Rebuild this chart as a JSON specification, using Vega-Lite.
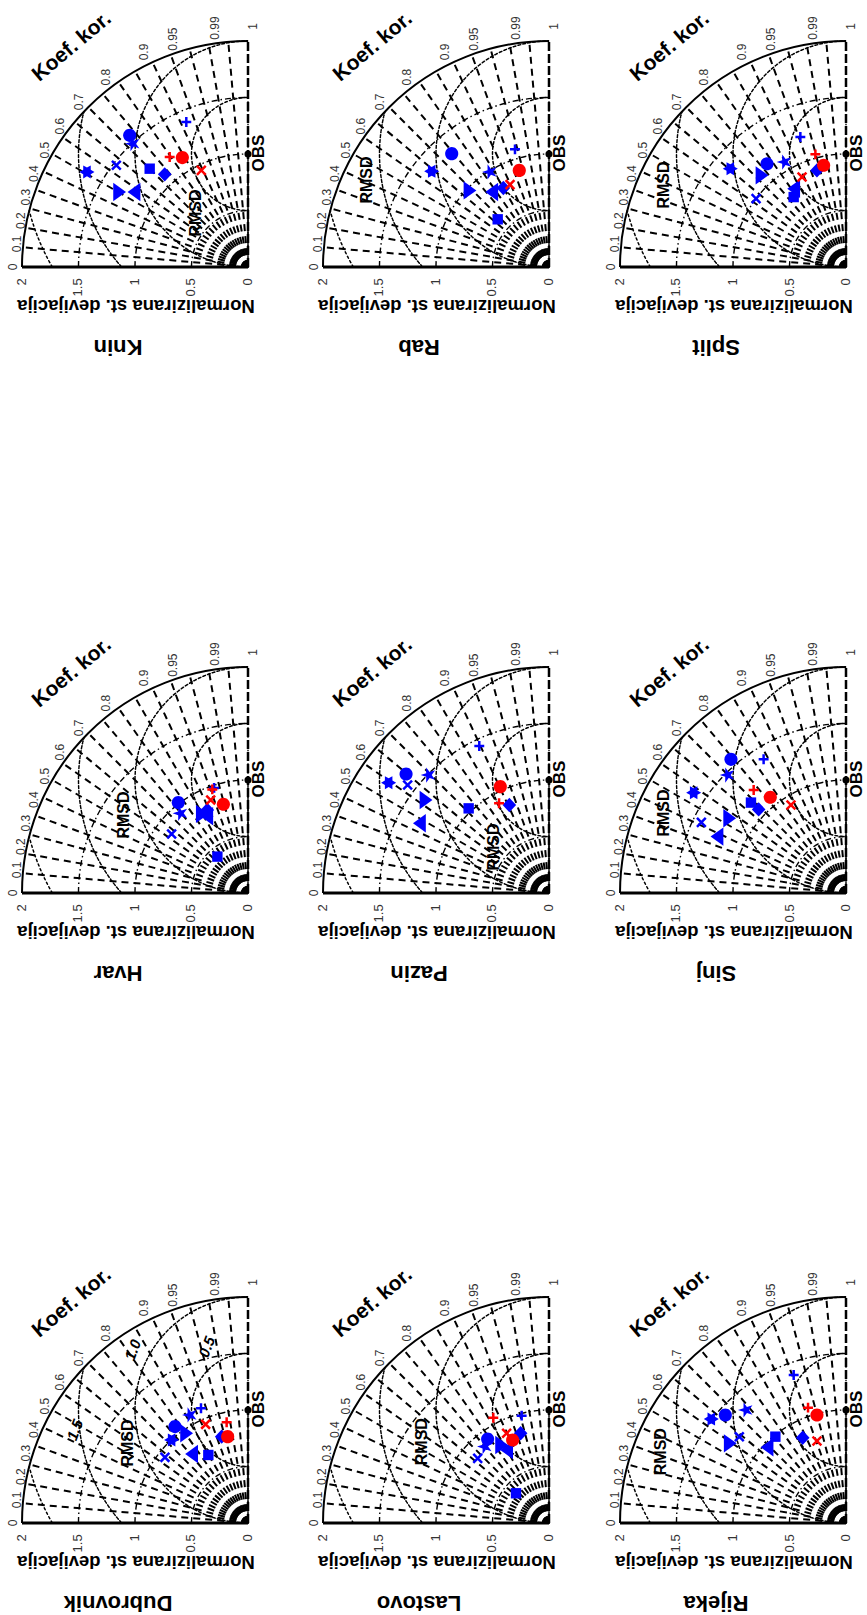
{
"$schema": "https://vega.github.io/schema/vega-lite/v6.json",
"padding": 0,
"spacing": 0,
"config": {"view": {"stroke": null}, "text": {"font": "Liberation Sans"}},
"datasets": {
"sd": [{"u":0,"v":0,"r":0.5,"t1":270,"t2":360},{"u":0,"v":0,"r":1,"t1":270,"t2":360},{"u":0,"v":0,"r":1.5,"t1":270,"t2":360}],
"rms": [{"u":0,"v":1,"r":0.5,"t1":180,"t2":360},{"u":0,"v":1,"r":1,"t1":180,"t2":360},{"u":0,"v":1,"r":1.5,"t1":228.2,"t2":284.5},{"u":0,"v":1,"r":2,"t1":240,"t2":255.5}],
"outer": [{"u":0,"v":0,"r":2,"t1":270,"t2":360}],
"rays": [{"u":0,"v":0,"u2":0.1743,"v2":1.9924},{"u":0,"v":0,"u2":0.3473,"v2":1.9696},{"u":0,"v":0,"u2":0.5176,"v2":1.9319},{"u":0,"v":0,"u2":0.684,"v2":1.8794},{"u":0,"v":0,"u2":0.8452,"v2":1.8126},{"u":0,"v":0,"u2":1.0,"v2":1.7321},{"u":0,"v":0,"u2":1.1472,"v2":1.6383},{"u":0,"v":0,"u2":1.2856,"v2":1.5321},{"u":0,"v":0,"u2":1.4142,"v2":1.4142},{"u":0,"v":0,"u2":1.5321,"v2":1.2856},{"u":0,"v":0,"u2":1.6383,"v2":1.1472},{"u":0,"v":0,"u2":1.7321,"v2":1.0},{"u":0,"v":0,"u2":1.8126,"v2":0.8452},{"u":0,"v":0,"u2":1.8794,"v2":0.684},{"u":0,"v":0,"u2":1.9319,"v2":0.5176},{"u":0,"v":0,"u2":1.9696,"v2":0.3473},{"u":0,"v":0,"u2":1.9924,"v2":0.1743}],
"axb": [{"u":0,"v":0,"u2":2,"v2":0}],
"axv": [{"u":0,"v":0,"u2":0,"v2":2}],
"obs": [{"u":0,"v":1}],
"cl": [{"lab":"0","u":2.08,"v":0},{"lab":"0.1","u":2.041,"v":0.205},{"lab":"0.2","u":2.012,"v":0.411},{"lab":"0.3","u":1.962,"v":0.617},{"lab":"0.4","u":1.891,"v":0.825},{"lab":"0.5","u":1.793,"v":1.035},{"lab":"0.6","u":1.663,"v":1.247},{"lab":"0.7","u":1.492,"v":1.462},{"lab":"0.8","u":1.261,"v":1.681},{"lab":"0.9","u":0.922,"v":1.903},{"lab":"0.95","u":0.663,"v":2.016},{"lab":"0.99","u":0.29,"v":2.115},{"lab":"1","u":-0.04,"v":2.13}],
"tl": [{"lab":"2","u":2,"v":-0.1},{"lab":"1.5","u":1.5,"v":-0.1},{"lab":"1","u":1,"v":-0.1},{"lab":"0.5","u":0.5,"v":-0.1},{"lab":"0","u":0,"v":-0.1}],
"ttl": [{"lab":"Normalizirana st. devijacija","u":0.991,"v":-0.345}],
"koef": [{"lab":"Koef. kor.","u":1.558,"v":1.947}],
"obslab": [{"lab":"OBS","u":-0.1,"v":1.009}],
"names": [{"station":"Knin","u":1.15,"v":-0.71},{"station":"Rab","u":1.15,"v":-0.71},{"station":"Split","u":1.15,"v":-0.71},{"station":"Hvar","u":1.15,"v":-0.71},{"station":"Pazin","u":1.15,"v":-0.71},{"station":"Sinj","u":1.15,"v":-0.71},{"station":"Dubrovnik","u":1.15,"v":-0.71},{"station":"Lastovo","u":1.15,"v":-0.71},{"station":"Rijeka","u":1.15,"v":-0.71}],
"rmsdlab": [{"station":"Knin","lab":"RMSD","u":0.46,"v":0.478},{"station":"Rab","lab":"RMSD","u":1.613,"v":0.77},{"station":"Split","lab":"RMSD","u":1.613,"v":0.726},{"station":"Hvar","lab":"RMSD","u":1.097,"v":0.69},{"station":"Pazin","lab":"RMSD","u":0.487,"v":0.407},{"station":"Sinj","lab":"RMSD","u":1.613,"v":0.708},{"station":"Dubrovnik","lab":"RMSD","u":1.062,"v":0.708},{"station":"Lastovo","lab":"RMSD","u":1.127,"v":0.72},{"station":"Rijeka","lab":"RMSD","u":1.637,"v":0.631}],
"dubl": [{"lab":"1.5","u":1.531,"v":0.823},{"lab":"1.0","u":1.018,"v":1.531},{"lab":"0.5","u":0.363,"v":1.558}],
"pts": [
{"station":"Knin","model":"B1","u":1.047,"v":1.165},{"station":"Knin","model":"B2","u":0.546,"v":1.283},{"station":"Knin","model":"B3","u":1.165,"v":0.9},{"station":"Knin","model":"B4","u":1.018,"v":1.091},{"station":"Knin","model":"B5","u":1.425,"v":0.841},{"station":"Knin","model":"B6","u":0.87,"v":0.87},{"station":"Knin","model":"B7","u":0.737,"v":0.82},{"station":"Knin","model":"B8","u":1.009,"v":0.664},{"station":"Knin","model":"B9","u":1.136,"v":0.664},{"station":"Knin","model":"R1","u":0.581,"v":0.968},{"station":"Knin","model":"R2","u":0.693,"v":0.973},{"station":"Knin","model":"R3","u":0.413,"v":0.855},
{"station":"Rab","model":"B1","u":0.861,"v":1.003},{"station":"Rab","model":"B2","u":0.301,"v":1.041},{"station":"Rab","model":"B4","u":0.522,"v":0.841},{"station":"Rab","model":"B5","u":1.038,"v":0.847},{"station":"Rab","model":"B6","u":0.454,"v":0.422},{"station":"Rab","model":"B7","u":0.404,"v":0.699},{"station":"Rab","model":"B8","u":0.507,"v":0.664},{"station":"Rab","model":"B9","u":0.699,"v":0.678},{"station":"Rab","model":"R1","u":0.263,"v":0.855},{"station":"Rab","model":"R3","u":0.345,"v":0.729},
{"station":"Split","model":"B1","u":0.699,"v":0.914},{"station":"Split","model":"B2","u":0.404,"v":1.15},{"station":"Split","model":"B3","u":0.796,"v":0.605},{"station":"Split","model":"B4","u":0.543,"v":0.929},{"station":"Split","model":"B5","u":1.024,"v":0.87},{"station":"Split","model":"B6","u":0.463,"v":0.619},{"station":"Split","model":"B7","u":0.257,"v":0.855},{"station":"Split","model":"B8","u":0.463,"v":0.693},{"station":"Split","model":"B9","u":0.743,"v":0.811},{"station":"Split","model":"R1","u":0.198,"v":0.9},{"station":"Split","model":"R2","u":0.271,"v":0.997},{"station":"Split","model":"R3","u":0.389,"v":0.796},
{"station":"Hvar","model":"B1","u":0.617,"v":0.8},{"station":"Hvar","model":"B2","u":0.3,"v":0.93},{"station":"Hvar","model":"B3","u":0.676,"v":0.522},{"station":"Hvar","model":"B4","u":0.596,"v":0.705},{"station":"Hvar","model":"B6","u":0.271,"v":0.322},{"station":"Hvar","model":"B7","u":0.36,"v":0.735},{"station":"Hvar","model":"B8","u":0.365,"v":0.68},{"station":"Hvar","model":"B9","u":0.404,"v":0.7},{"station":"Hvar","model":"R1","u":0.218,"v":0.785},{"station":"Hvar","model":"R2","u":0.316,"v":0.917},{"station":"Hvar","model":"R3","u":0.33,"v":0.823},
{"station":"Pazin","model":"B1","u":1.265,"v":1.053},{"station":"Pazin","model":"B2","u":0.617,"v":1.301},{"station":"Pazin","model":"B3","u":1.251,"v":0.956},{"station":"Pazin","model":"B4","u":1.065,"v":1.044},{"station":"Pazin","model":"B5","u":1.419,"v":0.976},{"station":"Pazin","model":"B6","u":0.711,"v":0.749},{"station":"Pazin","model":"B7","u":0.351,"v":0.779},{"station":"Pazin","model":"B8","u":1.147,"v":0.617},{"station":"Pazin","model":"B9","u":1.088,"v":0.823},{"station":"Pazin","model":"R1","u":0.431,"v":0.941},{"station":"Pazin","model":"R2","u":0.442,"v":0.794},
{"station":"Sinj","model":"B1","u":1.018,"v":1.183},{"station":"Sinj","model":"B2","u":0.729,"v":1.183},{"station":"Sinj","model":"B3","u":1.28,"v":0.625},{"station":"Sinj","model":"B4","u":1.047,"v":1.044},{"station":"Sinj","model":"B5","u":1.348,"v":0.888},{"station":"Sinj","model":"B6","u":0.841,"v":0.8},{"station":"Sinj","model":"B7","u":0.773,"v":0.74},{"station":"Sinj","model":"B8","u":1.142,"v":0.499},{"station":"Sinj","model":"B9","u":1.029,"v":0.661},{"station":"Sinj","model":"R1","u":0.67,"v":0.847},{"station":"Sinj","model":"R2","u":0.817,"v":0.912},{"station":"Sinj","model":"R3","u":0.487,"v":0.779},
{"station":"Dubrovnik","model":"B1","u":0.646,"v":0.853},{"station":"Dubrovnik","model":"B2","u":0.416,"v":1.015},{"station":"Dubrovnik","model":"B3","u":0.735,"v":0.581},{"station":"Dubrovnik","model":"B4","u":0.513,"v":0.956},{"station":"Dubrovnik","model":"B5","u":0.676,"v":0.735},{"station":"Dubrovnik","model":"B6","u":0.351,"v":0.602},{"station":"Dubrovnik","model":"B7","u":0.233,"v":0.764},{"station":"Dubrovnik","model":"B8","u":0.499,"v":0.611},{"station":"Dubrovnik","model":"B9","u":0.543,"v":0.794},{"station":"Dubrovnik","model":"R1","u":0.18,"v":0.764},{"station":"Dubrovnik","model":"R2","u":0.189,"v":0.891},{"station":"Dubrovnik","model":"R3","u":0.375,"v":0.873},
{"station":"Lastovo","model":"B1","u":0.543,"v":0.743},{"station":"Lastovo","model":"B2","u":0.242,"v":0.95},{"station":"Lastovo","model":"B3","u":0.631,"v":0.572},{"station":"Lastovo","model":"B4","u":0.566,"v":0.676},{"station":"Lastovo","model":"B6","u":0.292,"v":0.263},{"station":"Lastovo","model":"B7","u":0.251,"v":0.794},{"station":"Lastovo","model":"B8","u":0.375,"v":0.646},{"station":"Lastovo","model":"B9","u":0.419,"v":0.69},{"station":"Lastovo","model":"R1","u":0.322,"v":0.735},{"station":"Lastovo","model":"R2","u":0.493,"v":0.932},{"station":"Lastovo","model":"R3","u":0.375,"v":0.794},
{"station":"Rijeka","model":"B1","u":1.068,"v":0.956},{"station":"Rijeka","model":"B2","u":0.463,"v":1.31},{"station":"Rijeka","model":"B3","u":0.944,"v":0.764},{"station":"Rijeka","model":"B4","u":0.885,"v":1.0},{"station":"Rijeka","model":"B5","u":1.192,"v":0.92},{"station":"Rijeka","model":"B6","u":0.625,"v":0.764},{"station":"Rijeka","model":"B7","u":0.383,"v":0.755},{"station":"Rijeka","model":"B8","u":0.699,"v":0.67},{"station":"Rijeka","model":"B9","u":1.024,"v":0.705},{"station":"Rijeka","model":"R1","u":0.257,"v":0.956},{"station":"Rijeka","model":"R2","u":0.336,"v":1.021},{"station":"Rijeka","model":"R3","u":0.257,"v":0.726}
]
},
"vconcat": [
{"spacing": 0, "hconcat": [
{"width":300,"height":627,"encoding":{"x":{"field":"u","type":"quantitative","axis":null,"scale":{"domain":[-0.46018,2.19469],"reverse":true,"nice":false,"zero":false}},"y":{"field":"v","type":"quantitative","axis":null,"scale":{"domain":[-3.18584,2.36283],"nice":false,"zero":false}}},
"layer":[
{"data":{"name":"sd"},"mark":{"type":"arc","filled":false,"stroke":"#000","strokeWidth":1.4,"strokeDash":[6,3,1.5,3]},"encoding":{"theta":{"field":"t1","type":"quantitative","stack":null,"scale":{"domain":[0,360],"range":[0,6.283185307179586]}},"theta2":{"field":"t2"},"radius":{"field":"r","type":"quantitative","scale":{"type":"linear","domain":[0,2],"range":[0,226],"zero":true}}}},
{"data":{"name":"rms"},"mark":{"type":"arc","filled":false,"stroke":"#000","strokeWidth":1.5,"strokeDash":[1,4],"strokeCap":"round"},"encoding":{"theta":{"field":"t1","type":"quantitative","stack":null,"scale":{"domain":[0,360],"range":[0,6.283185307179586]}},"theta2":{"field":"t2"},"radius":{"field":"r","type":"quantitative","scale":{"type":"linear","domain":[0,2],"range":[0,226],"zero":true}},"radius2":{"field":"r"}}},
{"data":{"name":"rays"},"mark":{"type":"rule","stroke":"#000","strokeWidth":2,"strokeDash":[7,5]},"encoding":{"x2":{"field":"u2"},"y2":{"field":"v2"}}},
{"data":{"name":"outer"},"mark":{"type":"arc","filled":false,"stroke":"#000","strokeWidth":2},"encoding":{"theta":{"field":"t1","type":"quantitative","stack":null,"scale":{"domain":[0,360],"range":[0,6.283185307179586]}},"theta2":{"field":"t2"},"radius":{"field":"r","type":"quantitative","scale":{"type":"linear","domain":[0,2],"range":[0,226],"zero":true}},"radius2":{"field":"r"}}},
{"data":{"name":"axb"},"mark":{"type":"rule","stroke":"#000","strokeWidth":3},"encoding":{"x2":{"field":"u2"},"y2":{"field":"v2"}}},
{"data":{"name":"axv"},"mark":{"type":"rule","stroke":"#000","strokeWidth":2.5,"strokeDash":[9,3]},"encoding":{"x2":{"field":"u2"},"y2":{"field":"v2"}}},
{"data":{"name":"obs"},"mark":{"type":"point","filled":true,"color":"#000","size":50,"opacity":1}},
{"data":{"name":"pts"},"transform":[{"filter":"datum.station==='Knin' && indexof(['R2','R3','B2','B3'],datum.model)<0"}],"mark":{"type":"point","filled":true,"size":256,"opacity":1},"encoding":{"shape":{"field":"model","type":"nominal","legend":null,"scale":{"domain":["R1","R2","R3","B1","B2","B3","B4","B5","B6","B7","B8","B9"],"range":["M0.82,0A0.82,0.82,0,1,1,-0.82,0A0.82,0.82,0,1,1,0.82,0Z","M-0.62,0L0.62,0M0,-0.62L0,0.62","M-0.55,-0.55L0.55,0.55M-0.55,0.55L0.55,-0.55","M0.82,0A0.82,0.82,0,1,1,-0.82,0A0.82,0.82,0,1,1,0.82,0Z","M-0.62,0L0.62,0M0,-0.62L0,0.62","M-0.55,-0.55L0.55,0.55M-0.55,0.55L0.55,-0.55","M-1,0L-0.309,-0.225L-0.309,-0.951L0.118,-0.363L0.809,-0.588L0.382,0L0.809,0.588L0.118,0.363L-0.309,0.951L-0.309,0.225Z","M-0.94,0L-0.47,0.271L-0.47,0.814L0,0.543L0.47,0.814L0.47,0.271L0.94,0L0.47,-0.271L0.47,-0.814L0,-0.543L-0.47,-0.814L-0.47,-0.271Z","M-0.65,-0.65L0.65,-0.65L0.65,0.65L-0.65,0.65Z","M0,-0.9L0.85,0L0,0.9L-0.85,0Z","M-0.8,0L0.8,-1.15L0.8,1.15Z","M0.8,0L-0.8,-1.15L-0.8,1.15Z"]}},"color":{"field":"model","type":"nominal","legend":null,"scale":{"domain":["R1","R2","R3","B1","B2","B3","B4","B5","B6","B7","B8","B9"],"range":["#ff0000","#ff0000","#ff0000","#0000ff","#0000ff","#0000ff","#0000ff","#0000ff","#0000ff","#0000ff","#0000ff","#0000ff"]}}}},
{"data":{"name":"pts"},"transform":[{"filter":"datum.station==='Knin' && indexof(['R2','R3','B2','B3'],datum.model)>=0"}],"mark":{"type":"point","filled":false,"size":256,"opacity":1,"strokeWidth":2.5},"encoding":{"shape":{"field":"model","type":"nominal","legend":null,"scale":{"domain":["R1","R2","R3","B1","B2","B3","B4","B5","B6","B7","B8","B9"],"range":["M0.82,0A0.82,0.82,0,1,1,-0.82,0A0.82,0.82,0,1,1,0.82,0Z","M-0.62,0L0.62,0M0,-0.62L0,0.62","M-0.55,-0.55L0.55,0.55M-0.55,0.55L0.55,-0.55","M0.82,0A0.82,0.82,0,1,1,-0.82,0A0.82,0.82,0,1,1,0.82,0Z","M-0.62,0L0.62,0M0,-0.62L0,0.62","M-0.55,-0.55L0.55,0.55M-0.55,0.55L0.55,-0.55","M-1,0L-0.309,-0.225L-0.309,-0.951L0.118,-0.363L0.809,-0.588L0.382,0L0.809,0.588L0.118,0.363L-0.309,0.951L-0.309,0.225Z","M-0.94,0L-0.47,0.271L-0.47,0.814L0,0.543L0.47,0.814L0.47,0.271L0.94,0L0.47,-0.271L0.47,-0.814L0,-0.543L-0.47,-0.814L-0.47,-0.271Z","M-0.65,-0.65L0.65,-0.65L0.65,0.65L-0.65,0.65Z","M0,-0.9L0.85,0L0,0.9L-0.85,0Z","M-0.8,0L0.8,-1.15L0.8,1.15Z","M0.8,0L-0.8,-1.15L-0.8,1.15Z"]}},"color":{"field":"model","type":"nominal","legend":null,"scale":{"domain":["R1","R2","R3","B1","B2","B3","B4","B5","B6","B7","B8","B9"],"range":["#ff0000","#ff0000","#ff0000","#0000ff","#0000ff","#0000ff","#0000ff","#0000ff","#0000ff","#0000ff","#0000ff","#0000ff"]}}}},
{"data":{"name":"cl"},"mark":{"type":"text","angle":270,"fontSize":12,"color":"#333","align":"center","baseline":"middle"},"encoding":{"text":{"field":"lab"}}},
{"data":{"name":"tl"},"mark":{"type":"text","angle":270,"fontSize":13,"color":"#333","align":"right","baseline":"middle"},"encoding":{"text":{"field":"lab"}}},
{"data":{"name":"ttl"},"mark":{"type":"text","angle":180,"fontSize":18.5,"fontWeight":"bold","align":"center","baseline":"middle"},"encoding":{"text":{"field":"lab"}}},
{"data":{"name":"koef"},"mark":{"type":"text","angle":320,"fontSize":21,"fontWeight":"bold","align":"center","baseline":"middle"},"encoding":{"text":{"field":"lab"}}},
{"data":{"name":"obslab"},"mark":{"type":"text","angle":270,"fontSize":17,"fontWeight":"bold","align":"center","baseline":"middle"},"encoding":{"text":{"field":"lab"}}},
{"data":{"name":"names"},"transform":[{"filter":"datum.station==='Knin'"}],"mark":{"type":"text","angle":180,"fontSize":22,"fontWeight":"bold","align":"center","baseline":"middle"},"encoding":{"text":{"field":"station"}}},
{"data":{"name":"rmsdlab"},"transform":[{"filter":"datum.station==='Knin'"}],"mark":{"type":"text","angle":270,"fontSize":16,"fontWeight":"bold","align":"center","baseline":"middle"},"encoding":{"text":{"field":"lab"}}}
]},
{"width":300,"height":627,"encoding":{"x":{"field":"u","type":"quantitative","axis":null,"scale":{"domain":[-0.45133,2.20354],"reverse":true,"nice":false,"zero":false}},"y":{"field":"v","type":"quantitative","axis":null,"scale":{"domain":[-3.18584,2.36283],"nice":false,"zero":false}}},
"layer":[
{"data":{"name":"sd"},"mark":{"type":"arc","filled":false,"stroke":"#000","strokeWidth":1.4,"strokeDash":[6,3,1.5,3]},"encoding":{"theta":{"field":"t1","type":"quantitative","stack":null,"scale":{"domain":[0,360],"range":[0,6.283185307179586]}},"theta2":{"field":"t2"},"radius":{"field":"r","type":"quantitative","scale":{"type":"linear","domain":[0,2],"range":[0,226],"zero":true}}}},
{"data":{"name":"rms"},"mark":{"type":"arc","filled":false,"stroke":"#000","strokeWidth":1.5,"strokeDash":[1,4],"strokeCap":"round"},"encoding":{"theta":{"field":"t1","type":"quantitative","stack":null,"scale":{"domain":[0,360],"range":[0,6.283185307179586]}},"theta2":{"field":"t2"},"radius":{"field":"r","type":"quantitative","scale":{"type":"linear","domain":[0,2],"range":[0,226],"zero":true}},"radius2":{"field":"r"}}},
{"data":{"name":"rays"},"mark":{"type":"rule","stroke":"#000","strokeWidth":2,"strokeDash":[7,5]},"encoding":{"x2":{"field":"u2"},"y2":{"field":"v2"}}},
{"data":{"name":"outer"},"mark":{"type":"arc","filled":false,"stroke":"#000","strokeWidth":2},"encoding":{"theta":{"field":"t1","type":"quantitative","stack":null,"scale":{"domain":[0,360],"range":[0,6.283185307179586]}},"theta2":{"field":"t2"},"radius":{"field":"r","type":"quantitative","scale":{"type":"linear","domain":[0,2],"range":[0,226],"zero":true}},"radius2":{"field":"r"}}},
{"data":{"name":"axb"},"mark":{"type":"rule","stroke":"#000","strokeWidth":3},"encoding":{"x2":{"field":"u2"},"y2":{"field":"v2"}}},
{"data":{"name":"axv"},"mark":{"type":"rule","stroke":"#000","strokeWidth":2.5,"strokeDash":[9,3]},"encoding":{"x2":{"field":"u2"},"y2":{"field":"v2"}}},
{"data":{"name":"obs"},"mark":{"type":"point","filled":true,"color":"#000","size":50,"opacity":1}},
{"data":{"name":"pts"},"transform":[{"filter":"datum.station==='Rab' && indexof(['R2','R3','B2','B3'],datum.model)<0"}],"mark":{"type":"point","filled":true,"size":256,"opacity":1},"encoding":{"shape":{"field":"model","type":"nominal","legend":null,"scale":{"domain":["R1","R2","R3","B1","B2","B3","B4","B5","B6","B7","B8","B9"],"range":["M0.82,0A0.82,0.82,0,1,1,-0.82,0A0.82,0.82,0,1,1,0.82,0Z","M-0.62,0L0.62,0M0,-0.62L0,0.62","M-0.55,-0.55L0.55,0.55M-0.55,0.55L0.55,-0.55","M0.82,0A0.82,0.82,0,1,1,-0.82,0A0.82,0.82,0,1,1,0.82,0Z","M-0.62,0L0.62,0M0,-0.62L0,0.62","M-0.55,-0.55L0.55,0.55M-0.55,0.55L0.55,-0.55","M-1,0L-0.309,-0.225L-0.309,-0.951L0.118,-0.363L0.809,-0.588L0.382,0L0.809,0.588L0.118,0.363L-0.309,0.951L-0.309,0.225Z","M-0.94,0L-0.47,0.271L-0.47,0.814L0,0.543L0.47,0.814L0.47,0.271L0.94,0L0.47,-0.271L0.47,-0.814L0,-0.543L-0.47,-0.814L-0.47,-0.271Z","M-0.65,-0.65L0.65,-0.65L0.65,0.65L-0.65,0.65Z","M0,-0.9L0.85,0L0,0.9L-0.85,0Z","M-0.8,0L0.8,-1.15L0.8,1.15Z","M0.8,0L-0.8,-1.15L-0.8,1.15Z"]}},"color":{"field":"model","type":"nominal","legend":null,"scale":{"domain":["R1","R2","R3","B1","B2","B3","B4","B5","B6","B7","B8","B9"],"range":["#ff0000","#ff0000","#ff0000","#0000ff","#0000ff","#0000ff","#0000ff","#0000ff","#0000ff","#0000ff","#0000ff","#0000ff"]}}}},
{"data":{"name":"pts"},"transform":[{"filter":"datum.station==='Rab' && indexof(['R2','R3','B2','B3'],datum.model)>=0"}],"mark":{"type":"point","filled":false,"size":256,"opacity":1,"strokeWidth":2.5},"encoding":{"shape":{"field":"model","type":"nominal","legend":null,"scale":{"domain":["R1","R2","R3","B1","B2","B3","B4","B5","B6","B7","B8","B9"],"range":["M0.82,0A0.82,0.82,0,1,1,-0.82,0A0.82,0.82,0,1,1,0.82,0Z","M-0.62,0L0.62,0M0,-0.62L0,0.62","M-0.55,-0.55L0.55,0.55M-0.55,0.55L0.55,-0.55","M0.82,0A0.82,0.82,0,1,1,-0.82,0A0.82,0.82,0,1,1,0.82,0Z","M-0.62,0L0.62,0M0,-0.62L0,0.62","M-0.55,-0.55L0.55,0.55M-0.55,0.55L0.55,-0.55","M-1,0L-0.309,-0.225L-0.309,-0.951L0.118,-0.363L0.809,-0.588L0.382,0L0.809,0.588L0.118,0.363L-0.309,0.951L-0.309,0.225Z","M-0.94,0L-0.47,0.271L-0.47,0.814L0,0.543L0.47,0.814L0.47,0.271L0.94,0L0.47,-0.271L0.47,-0.814L0,-0.543L-0.47,-0.814L-0.47,-0.271Z","M-0.65,-0.65L0.65,-0.65L0.65,0.65L-0.65,0.65Z","M0,-0.9L0.85,0L0,0.9L-0.85,0Z","M-0.8,0L0.8,-1.15L0.8,1.15Z","M0.8,0L-0.8,-1.15L-0.8,1.15Z"]}},"color":{"field":"model","type":"nominal","legend":null,"scale":{"domain":["R1","R2","R3","B1","B2","B3","B4","B5","B6","B7","B8","B9"],"range":["#ff0000","#ff0000","#ff0000","#0000ff","#0000ff","#0000ff","#0000ff","#0000ff","#0000ff","#0000ff","#0000ff","#0000ff"]}}}},
{"data":{"name":"cl"},"mark":{"type":"text","angle":270,"fontSize":12,"color":"#333","align":"center","baseline":"middle"},"encoding":{"text":{"field":"lab"}}},
{"data":{"name":"tl"},"mark":{"type":"text","angle":270,"fontSize":13,"color":"#333","align":"right","baseline":"middle"},"encoding":{"text":{"field":"lab"}}},
{"data":{"name":"ttl"},"mark":{"type":"text","angle":180,"fontSize":18.5,"fontWeight":"bold","align":"center","baseline":"middle"},"encoding":{"text":{"field":"lab"}}},
{"data":{"name":"koef"},"mark":{"type":"text","angle":320,"fontSize":21,"fontWeight":"bold","align":"center","baseline":"middle"},"encoding":{"text":{"field":"lab"}}},
{"data":{"name":"obslab"},"mark":{"type":"text","angle":270,"fontSize":17,"fontWeight":"bold","align":"center","baseline":"middle"},"encoding":{"text":{"field":"lab"}}},
{"data":{"name":"names"},"transform":[{"filter":"datum.station==='Rab'"}],"mark":{"type":"text","angle":180,"fontSize":22,"fontWeight":"bold","align":"center","baseline":"middle"},"encoding":{"text":{"field":"station"}}},
{"data":{"name":"rmsdlab"},"transform":[{"filter":"datum.station==='Rab'"}],"mark":{"type":"text","angle":270,"fontSize":16,"fontWeight":"bold","align":"center","baseline":"middle"},"encoding":{"text":{"field":"lab"}}}
]},
{"width":267,"height":627,"encoding":{"x":{"field":"u","type":"quantitative","axis":null,"scale":{"domain":[-0.18584,2.17699],"reverse":true,"nice":false,"zero":false}},"y":{"field":"v","type":"quantitative","axis":null,"scale":{"domain":[-3.18584,2.36283],"nice":false,"zero":false}}},
"layer":[
{"data":{"name":"sd"},"mark":{"type":"arc","filled":false,"stroke":"#000","strokeWidth":1.4,"strokeDash":[6,3,1.5,3]},"encoding":{"theta":{"field":"t1","type":"quantitative","stack":null,"scale":{"domain":[0,360],"range":[0,6.283185307179586]}},"theta2":{"field":"t2"},"radius":{"field":"r","type":"quantitative","scale":{"type":"linear","domain":[0,2],"range":[0,226],"zero":true}}}},
{"data":{"name":"rms"},"mark":{"type":"arc","filled":false,"stroke":"#000","strokeWidth":1.5,"strokeDash":[1,4],"strokeCap":"round"},"encoding":{"theta":{"field":"t1","type":"quantitative","stack":null,"scale":{"domain":[0,360],"range":[0,6.283185307179586]}},"theta2":{"field":"t2"},"radius":{"field":"r","type":"quantitative","scale":{"type":"linear","domain":[0,2],"range":[0,226],"zero":true}},"radius2":{"field":"r"}}},
{"data":{"name":"rays"},"mark":{"type":"rule","stroke":"#000","strokeWidth":2,"strokeDash":[7,5]},"encoding":{"x2":{"field":"u2"},"y2":{"field":"v2"}}},
{"data":{"name":"outer"},"mark":{"type":"arc","filled":false,"stroke":"#000","strokeWidth":2},"encoding":{"theta":{"field":"t1","type":"quantitative","stack":null,"scale":{"domain":[0,360],"range":[0,6.283185307179586]}},"theta2":{"field":"t2"},"radius":{"field":"r","type":"quantitative","scale":{"type":"linear","domain":[0,2],"range":[0,226],"zero":true}},"radius2":{"field":"r"}}},
{"data":{"name":"axb"},"mark":{"type":"rule","stroke":"#000","strokeWidth":3},"encoding":{"x2":{"field":"u2"},"y2":{"field":"v2"}}},
{"data":{"name":"axv"},"mark":{"type":"rule","stroke":"#000","strokeWidth":2.5,"strokeDash":[9,3]},"encoding":{"x2":{"field":"u2"},"y2":{"field":"v2"}}},
{"data":{"name":"obs"},"mark":{"type":"point","filled":true,"color":"#000","size":50,"opacity":1}},
{"data":{"name":"pts"},"transform":[{"filter":"datum.station==='Split' && indexof(['R2','R3','B2','B3'],datum.model)<0"}],"mark":{"type":"point","filled":true,"size":256,"opacity":1},"encoding":{"shape":{"field":"model","type":"nominal","legend":null,"scale":{"domain":["R1","R2","R3","B1","B2","B3","B4","B5","B6","B7","B8","B9"],"range":["M0.82,0A0.82,0.82,0,1,1,-0.82,0A0.82,0.82,0,1,1,0.82,0Z","M-0.62,0L0.62,0M0,-0.62L0,0.62","M-0.55,-0.55L0.55,0.55M-0.55,0.55L0.55,-0.55","M0.82,0A0.82,0.82,0,1,1,-0.82,0A0.82,0.82,0,1,1,0.82,0Z","M-0.62,0L0.62,0M0,-0.62L0,0.62","M-0.55,-0.55L0.55,0.55M-0.55,0.55L0.55,-0.55","M-1,0L-0.309,-0.225L-0.309,-0.951L0.118,-0.363L0.809,-0.588L0.382,0L0.809,0.588L0.118,0.363L-0.309,0.951L-0.309,0.225Z","M-0.94,0L-0.47,0.271L-0.47,0.814L0,0.543L0.47,0.814L0.47,0.271L0.94,0L0.47,-0.271L0.47,-0.814L0,-0.543L-0.47,-0.814L-0.47,-0.271Z","M-0.65,-0.65L0.65,-0.65L0.65,0.65L-0.65,0.65Z","M0,-0.9L0.85,0L0,0.9L-0.85,0Z","M-0.8,0L0.8,-1.15L0.8,1.15Z","M0.8,0L-0.8,-1.15L-0.8,1.15Z"]}},"color":{"field":"model","type":"nominal","legend":null,"scale":{"domain":["R1","R2","R3","B1","B2","B3","B4","B5","B6","B7","B8","B9"],"range":["#ff0000","#ff0000","#ff0000","#0000ff","#0000ff","#0000ff","#0000ff","#0000ff","#0000ff","#0000ff","#0000ff","#0000ff"]}}}},
{"data":{"name":"pts"},"transform":[{"filter":"datum.station==='Split' && indexof(['R2','R3','B2','B3'],datum.model)>=0"}],"mark":{"type":"point","filled":false,"size":256,"opacity":1,"strokeWidth":2.5},"encoding":{"shape":{"field":"model","type":"nominal","legend":null,"scale":{"domain":["R1","R2","R3","B1","B2","B3","B4","B5","B6","B7","B8","B9"],"range":["M0.82,0A0.82,0.82,0,1,1,-0.82,0A0.82,0.82,0,1,1,0.82,0Z","M-0.62,0L0.62,0M0,-0.62L0,0.62","M-0.55,-0.55L0.55,0.55M-0.55,0.55L0.55,-0.55","M0.82,0A0.82,0.82,0,1,1,-0.82,0A0.82,0.82,0,1,1,0.82,0Z","M-0.62,0L0.62,0M0,-0.62L0,0.62","M-0.55,-0.55L0.55,0.55M-0.55,0.55L0.55,-0.55","M-1,0L-0.309,-0.225L-0.309,-0.951L0.118,-0.363L0.809,-0.588L0.382,0L0.809,0.588L0.118,0.363L-0.309,0.951L-0.309,0.225Z","M-0.94,0L-0.47,0.271L-0.47,0.814L0,0.543L0.47,0.814L0.47,0.271L0.94,0L0.47,-0.271L0.47,-0.814L0,-0.543L-0.47,-0.814L-0.47,-0.271Z","M-0.65,-0.65L0.65,-0.65L0.65,0.65L-0.65,0.65Z","M0,-0.9L0.85,0L0,0.9L-0.85,0Z","M-0.8,0L0.8,-1.15L0.8,1.15Z","M0.8,0L-0.8,-1.15L-0.8,1.15Z"]}},"color":{"field":"model","type":"nominal","legend":null,"scale":{"domain":["R1","R2","R3","B1","B2","B3","B4","B5","B6","B7","B8","B9"],"range":["#ff0000","#ff0000","#ff0000","#0000ff","#0000ff","#0000ff","#0000ff","#0000ff","#0000ff","#0000ff","#0000ff","#0000ff"]}}}},
{"data":{"name":"cl"},"mark":{"type":"text","angle":270,"fontSize":12,"color":"#333","align":"center","baseline":"middle"},"encoding":{"text":{"field":"lab"}}},
{"data":{"name":"tl"},"mark":{"type":"text","angle":270,"fontSize":13,"color":"#333","align":"right","baseline":"middle"},"encoding":{"text":{"field":"lab"}}},
{"data":{"name":"ttl"},"mark":{"type":"text","angle":180,"fontSize":18.5,"fontWeight":"bold","align":"center","baseline":"middle"},"encoding":{"text":{"field":"lab"}}},
{"data":{"name":"koef"},"mark":{"type":"text","angle":320,"fontSize":21,"fontWeight":"bold","align":"center","baseline":"middle"},"encoding":{"text":{"field":"lab"}}},
{"data":{"name":"obslab"},"mark":{"type":"text","angle":270,"fontSize":17,"fontWeight":"bold","align":"center","baseline":"middle"},"encoding":{"text":{"field":"lab"}}},
{"data":{"name":"names"},"transform":[{"filter":"datum.station==='Split'"}],"mark":{"type":"text","angle":180,"fontSize":22,"fontWeight":"bold","align":"center","baseline":"middle"},"encoding":{"text":{"field":"station"}}},
{"data":{"name":"rmsdlab"},"transform":[{"filter":"datum.station==='Split'"}],"mark":{"type":"text","angle":270,"fontSize":16,"fontWeight":"bold","align":"center","baseline":"middle"},"encoding":{"text":{"field":"lab"}}}
]}
]},
{"spacing": 0, "hconcat": [
{"width":300,"height":629,"encoding":{"x":{"field":"u","type":"quantitative","axis":null,"scale":{"domain":[-0.46018,2.19469],"reverse":true,"nice":false,"zero":false}},"y":{"field":"v","type":"quantitative","axis":null,"scale":{"domain":[-3.21239,2.35398],"nice":false,"zero":false}}},
"layer":[
{"data":{"name":"sd"},"mark":{"type":"arc","filled":false,"stroke":"#000","strokeWidth":1.4,"strokeDash":[6,3,1.5,3]},"encoding":{"theta":{"field":"t1","type":"quantitative","stack":null,"scale":{"domain":[0,360],"range":[0,6.283185307179586]}},"theta2":{"field":"t2"},"radius":{"field":"r","type":"quantitative","scale":{"type":"linear","domain":[0,2],"range":[0,226],"zero":true}}}},
{"data":{"name":"rms"},"mark":{"type":"arc","filled":false,"stroke":"#000","strokeWidth":1.5,"strokeDash":[1,4],"strokeCap":"round"},"encoding":{"theta":{"field":"t1","type":"quantitative","stack":null,"scale":{"domain":[0,360],"range":[0,6.283185307179586]}},"theta2":{"field":"t2"},"radius":{"field":"r","type":"quantitative","scale":{"type":"linear","domain":[0,2],"range":[0,226],"zero":true}},"radius2":{"field":"r"}}},
{"data":{"name":"rays"},"mark":{"type":"rule","stroke":"#000","strokeWidth":2,"strokeDash":[7,5]},"encoding":{"x2":{"field":"u2"},"y2":{"field":"v2"}}},
{"data":{"name":"outer"},"mark":{"type":"arc","filled":false,"stroke":"#000","strokeWidth":2},"encoding":{"theta":{"field":"t1","type":"quantitative","stack":null,"scale":{"domain":[0,360],"range":[0,6.283185307179586]}},"theta2":{"field":"t2"},"radius":{"field":"r","type":"quantitative","scale":{"type":"linear","domain":[0,2],"range":[0,226],"zero":true}},"radius2":{"field":"r"}}},
{"data":{"name":"axb"},"mark":{"type":"rule","stroke":"#000","strokeWidth":3},"encoding":{"x2":{"field":"u2"},"y2":{"field":"v2"}}},
{"data":{"name":"axv"},"mark":{"type":"rule","stroke":"#000","strokeWidth":2.5,"strokeDash":[9,3]},"encoding":{"x2":{"field":"u2"},"y2":{"field":"v2"}}},
{"data":{"name":"obs"},"mark":{"type":"point","filled":true,"color":"#000","size":50,"opacity":1}},
{"data":{"name":"pts"},"transform":[{"filter":"datum.station==='Hvar' && indexof(['R2','R3','B2','B3'],datum.model)<0"}],"mark":{"type":"point","filled":true,"size":256,"opacity":1},"encoding":{"shape":{"field":"model","type":"nominal","legend":null,"scale":{"domain":["R1","R2","R3","B1","B2","B3","B4","B5","B6","B7","B8","B9"],"range":["M0.82,0A0.82,0.82,0,1,1,-0.82,0A0.82,0.82,0,1,1,0.82,0Z","M-0.62,0L0.62,0M0,-0.62L0,0.62","M-0.55,-0.55L0.55,0.55M-0.55,0.55L0.55,-0.55","M0.82,0A0.82,0.82,0,1,1,-0.82,0A0.82,0.82,0,1,1,0.82,0Z","M-0.62,0L0.62,0M0,-0.62L0,0.62","M-0.55,-0.55L0.55,0.55M-0.55,0.55L0.55,-0.55","M-1,0L-0.309,-0.225L-0.309,-0.951L0.118,-0.363L0.809,-0.588L0.382,0L0.809,0.588L0.118,0.363L-0.309,0.951L-0.309,0.225Z","M-0.94,0L-0.47,0.271L-0.47,0.814L0,0.543L0.47,0.814L0.47,0.271L0.94,0L0.47,-0.271L0.47,-0.814L0,-0.543L-0.47,-0.814L-0.47,-0.271Z","M-0.65,-0.65L0.65,-0.65L0.65,0.65L-0.65,0.65Z","M0,-0.9L0.85,0L0,0.9L-0.85,0Z","M-0.8,0L0.8,-1.15L0.8,1.15Z","M0.8,0L-0.8,-1.15L-0.8,1.15Z"]}},"color":{"field":"model","type":"nominal","legend":null,"scale":{"domain":["R1","R2","R3","B1","B2","B3","B4","B5","B6","B7","B8","B9"],"range":["#ff0000","#ff0000","#ff0000","#0000ff","#0000ff","#0000ff","#0000ff","#0000ff","#0000ff","#0000ff","#0000ff","#0000ff"]}}}},
{"data":{"name":"pts"},"transform":[{"filter":"datum.station==='Hvar' && indexof(['R2','R3','B2','B3'],datum.model)>=0"}],"mark":{"type":"point","filled":false,"size":256,"opacity":1,"strokeWidth":2.5},"encoding":{"shape":{"field":"model","type":"nominal","legend":null,"scale":{"domain":["R1","R2","R3","B1","B2","B3","B4","B5","B6","B7","B8","B9"],"range":["M0.82,0A0.82,0.82,0,1,1,-0.82,0A0.82,0.82,0,1,1,0.82,0Z","M-0.62,0L0.62,0M0,-0.62L0,0.62","M-0.55,-0.55L0.55,0.55M-0.55,0.55L0.55,-0.55","M0.82,0A0.82,0.82,0,1,1,-0.82,0A0.82,0.82,0,1,1,0.82,0Z","M-0.62,0L0.62,0M0,-0.62L0,0.62","M-0.55,-0.55L0.55,0.55M-0.55,0.55L0.55,-0.55","M-1,0L-0.309,-0.225L-0.309,-0.951L0.118,-0.363L0.809,-0.588L0.382,0L0.809,0.588L0.118,0.363L-0.309,0.951L-0.309,0.225Z","M-0.94,0L-0.47,0.271L-0.47,0.814L0,0.543L0.47,0.814L0.47,0.271L0.94,0L0.47,-0.271L0.47,-0.814L0,-0.543L-0.47,-0.814L-0.47,-0.271Z","M-0.65,-0.65L0.65,-0.65L0.65,0.65L-0.65,0.65Z","M0,-0.9L0.85,0L0,0.9L-0.85,0Z","M-0.8,0L0.8,-1.15L0.8,1.15Z","M0.8,0L-0.8,-1.15L-0.8,1.15Z"]}},"color":{"field":"model","type":"nominal","legend":null,"scale":{"domain":["R1","R2","R3","B1","B2","B3","B4","B5","B6","B7","B8","B9"],"range":["#ff0000","#ff0000","#ff0000","#0000ff","#0000ff","#0000ff","#0000ff","#0000ff","#0000ff","#0000ff","#0000ff","#0000ff"]}}}},
{"data":{"name":"cl"},"mark":{"type":"text","angle":270,"fontSize":12,"color":"#333","align":"center","baseline":"middle"},"encoding":{"text":{"field":"lab"}}},
{"data":{"name":"tl"},"mark":{"type":"text","angle":270,"fontSize":13,"color":"#333","align":"right","baseline":"middle"},"encoding":{"text":{"field":"lab"}}},
{"data":{"name":"ttl"},"mark":{"type":"text","angle":180,"fontSize":18.5,"fontWeight":"bold","align":"center","baseline":"middle"},"encoding":{"text":{"field":"lab"}}},
{"data":{"name":"koef"},"mark":{"type":"text","angle":320,"fontSize":21,"fontWeight":"bold","align":"center","baseline":"middle"},"encoding":{"text":{"field":"lab"}}},
{"data":{"name":"obslab"},"mark":{"type":"text","angle":270,"fontSize":17,"fontWeight":"bold","align":"center","baseline":"middle"},"encoding":{"text":{"field":"lab"}}},
{"data":{"name":"names"},"transform":[{"filter":"datum.station==='Hvar'"}],"mark":{"type":"text","angle":180,"fontSize":22,"fontWeight":"bold","align":"center","baseline":"middle"},"encoding":{"text":{"field":"station"}}},
{"data":{"name":"rmsdlab"},"transform":[{"filter":"datum.station==='Hvar'"}],"mark":{"type":"text","angle":270,"fontSize":16,"fontWeight":"bold","align":"center","baseline":"middle"},"encoding":{"text":{"field":"lab"}}}
]},
{"width":300,"height":629,"encoding":{"x":{"field":"u","type":"quantitative","axis":null,"scale":{"domain":[-0.45133,2.20354],"reverse":true,"nice":false,"zero":false}},"y":{"field":"v","type":"quantitative","axis":null,"scale":{"domain":[-3.21239,2.35398],"nice":false,"zero":false}}},
"layer":[
{"data":{"name":"sd"},"mark":{"type":"arc","filled":false,"stroke":"#000","strokeWidth":1.4,"strokeDash":[6,3,1.5,3]},"encoding":{"theta":{"field":"t1","type":"quantitative","stack":null,"scale":{"domain":[0,360],"range":[0,6.283185307179586]}},"theta2":{"field":"t2"},"radius":{"field":"r","type":"quantitative","scale":{"type":"linear","domain":[0,2],"range":[0,226],"zero":true}}}},
{"data":{"name":"rms"},"mark":{"type":"arc","filled":false,"stroke":"#000","strokeWidth":1.5,"strokeDash":[1,4],"strokeCap":"round"},"encoding":{"theta":{"field":"t1","type":"quantitative","stack":null,"scale":{"domain":[0,360],"range":[0,6.283185307179586]}},"theta2":{"field":"t2"},"radius":{"field":"r","type":"quantitative","scale":{"type":"linear","domain":[0,2],"range":[0,226],"zero":true}},"radius2":{"field":"r"}}},
{"data":{"name":"rays"},"mark":{"type":"rule","stroke":"#000","strokeWidth":2,"strokeDash":[7,5]},"encoding":{"x2":{"field":"u2"},"y2":{"field":"v2"}}},
{"data":{"name":"outer"},"mark":{"type":"arc","filled":false,"stroke":"#000","strokeWidth":2},"encoding":{"theta":{"field":"t1","type":"quantitative","stack":null,"scale":{"domain":[0,360],"range":[0,6.283185307179586]}},"theta2":{"field":"t2"},"radius":{"field":"r","type":"quantitative","scale":{"type":"linear","domain":[0,2],"range":[0,226],"zero":true}},"radius2":{"field":"r"}}},
{"data":{"name":"axb"},"mark":{"type":"rule","stroke":"#000","strokeWidth":3},"encoding":{"x2":{"field":"u2"},"y2":{"field":"v2"}}},
{"data":{"name":"axv"},"mark":{"type":"rule","stroke":"#000","strokeWidth":2.5,"strokeDash":[9,3]},"encoding":{"x2":{"field":"u2"},"y2":{"field":"v2"}}},
{"data":{"name":"obs"},"mark":{"type":"point","filled":true,"color":"#000","size":50,"opacity":1}},
{"data":{"name":"pts"},"transform":[{"filter":"datum.station==='Pazin' && indexof(['R2','R3','B2','B3'],datum.model)<0"}],"mark":{"type":"point","filled":true,"size":256,"opacity":1},"encoding":{"shape":{"field":"model","type":"nominal","legend":null,"scale":{"domain":["R1","R2","R3","B1","B2","B3","B4","B5","B6","B7","B8","B9"],"range":["M0.82,0A0.82,0.82,0,1,1,-0.82,0A0.82,0.82,0,1,1,0.82,0Z","M-0.62,0L0.62,0M0,-0.62L0,0.62","M-0.55,-0.55L0.55,0.55M-0.55,0.55L0.55,-0.55","M0.82,0A0.82,0.82,0,1,1,-0.82,0A0.82,0.82,0,1,1,0.82,0Z","M-0.62,0L0.62,0M0,-0.62L0,0.62","M-0.55,-0.55L0.55,0.55M-0.55,0.55L0.55,-0.55","M-1,0L-0.309,-0.225L-0.309,-0.951L0.118,-0.363L0.809,-0.588L0.382,0L0.809,0.588L0.118,0.363L-0.309,0.951L-0.309,0.225Z","M-0.94,0L-0.47,0.271L-0.47,0.814L0,0.543L0.47,0.814L0.47,0.271L0.94,0L0.47,-0.271L0.47,-0.814L0,-0.543L-0.47,-0.814L-0.47,-0.271Z","M-0.65,-0.65L0.65,-0.65L0.65,0.65L-0.65,0.65Z","M0,-0.9L0.85,0L0,0.9L-0.85,0Z","M-0.8,0L0.8,-1.15L0.8,1.15Z","M0.8,0L-0.8,-1.15L-0.8,1.15Z"]}},"color":{"field":"model","type":"nominal","legend":null,"scale":{"domain":["R1","R2","R3","B1","B2","B3","B4","B5","B6","B7","B8","B9"],"range":["#ff0000","#ff0000","#ff0000","#0000ff","#0000ff","#0000ff","#0000ff","#0000ff","#0000ff","#0000ff","#0000ff","#0000ff"]}}}},
{"data":{"name":"pts"},"transform":[{"filter":"datum.station==='Pazin' && indexof(['R2','R3','B2','B3'],datum.model)>=0"}],"mark":{"type":"point","filled":false,"size":256,"opacity":1,"strokeWidth":2.5},"encoding":{"shape":{"field":"model","type":"nominal","legend":null,"scale":{"domain":["R1","R2","R3","B1","B2","B3","B4","B5","B6","B7","B8","B9"],"range":["M0.82,0A0.82,0.82,0,1,1,-0.82,0A0.82,0.82,0,1,1,0.82,0Z","M-0.62,0L0.62,0M0,-0.62L0,0.62","M-0.55,-0.55L0.55,0.55M-0.55,0.55L0.55,-0.55","M0.82,0A0.82,0.82,0,1,1,-0.82,0A0.82,0.82,0,1,1,0.82,0Z","M-0.62,0L0.62,0M0,-0.62L0,0.62","M-0.55,-0.55L0.55,0.55M-0.55,0.55L0.55,-0.55","M-1,0L-0.309,-0.225L-0.309,-0.951L0.118,-0.363L0.809,-0.588L0.382,0L0.809,0.588L0.118,0.363L-0.309,0.951L-0.309,0.225Z","M-0.94,0L-0.47,0.271L-0.47,0.814L0,0.543L0.47,0.814L0.47,0.271L0.94,0L0.47,-0.271L0.47,-0.814L0,-0.543L-0.47,-0.814L-0.47,-0.271Z","M-0.65,-0.65L0.65,-0.65L0.65,0.65L-0.65,0.65Z","M0,-0.9L0.85,0L0,0.9L-0.85,0Z","M-0.8,0L0.8,-1.15L0.8,1.15Z","M0.8,0L-0.8,-1.15L-0.8,1.15Z"]}},"color":{"field":"model","type":"nominal","legend":null,"scale":{"domain":["R1","R2","R3","B1","B2","B3","B4","B5","B6","B7","B8","B9"],"range":["#ff0000","#ff0000","#ff0000","#0000ff","#0000ff","#0000ff","#0000ff","#0000ff","#0000ff","#0000ff","#0000ff","#0000ff"]}}}},
{"data":{"name":"cl"},"mark":{"type":"text","angle":270,"fontSize":12,"color":"#333","align":"center","baseline":"middle"},"encoding":{"text":{"field":"lab"}}},
{"data":{"name":"tl"},"mark":{"type":"text","angle":270,"fontSize":13,"color":"#333","align":"right","baseline":"middle"},"encoding":{"text":{"field":"lab"}}},
{"data":{"name":"ttl"},"mark":{"type":"text","angle":180,"fontSize":18.5,"fontWeight":"bold","align":"center","baseline":"middle"},"encoding":{"text":{"field":"lab"}}},
{"data":{"name":"koef"},"mark":{"type":"text","angle":320,"fontSize":21,"fontWeight":"bold","align":"center","baseline":"middle"},"encoding":{"text":{"field":"lab"}}},
{"data":{"name":"obslab"},"mark":{"type":"text","angle":270,"fontSize":17,"fontWeight":"bold","align":"center","baseline":"middle"},"encoding":{"text":{"field":"lab"}}},
{"data":{"name":"names"},"transform":[{"filter":"datum.station==='Pazin'"}],"mark":{"type":"text","angle":180,"fontSize":22,"fontWeight":"bold","align":"center","baseline":"middle"},"encoding":{"text":{"field":"station"}}},
{"data":{"name":"rmsdlab"},"transform":[{"filter":"datum.station==='Pazin'"}],"mark":{"type":"text","angle":270,"fontSize":16,"fontWeight":"bold","align":"center","baseline":"middle"},"encoding":{"text":{"field":"lab"}}}
]},
{"width":267,"height":629,"encoding":{"x":{"field":"u","type":"quantitative","axis":null,"scale":{"domain":[-0.18584,2.17699],"reverse":true,"nice":false,"zero":false}},"y":{"field":"v","type":"quantitative","axis":null,"scale":{"domain":[-3.21239,2.35398],"nice":false,"zero":false}}},
"layer":[
{"data":{"name":"sd"},"mark":{"type":"arc","filled":false,"stroke":"#000","strokeWidth":1.4,"strokeDash":[6,3,1.5,3]},"encoding":{"theta":{"field":"t1","type":"quantitative","stack":null,"scale":{"domain":[0,360],"range":[0,6.283185307179586]}},"theta2":{"field":"t2"},"radius":{"field":"r","type":"quantitative","scale":{"type":"linear","domain":[0,2],"range":[0,226],"zero":true}}}},
{"data":{"name":"rms"},"mark":{"type":"arc","filled":false,"stroke":"#000","strokeWidth":1.5,"strokeDash":[1,4],"strokeCap":"round"},"encoding":{"theta":{"field":"t1","type":"quantitative","stack":null,"scale":{"domain":[0,360],"range":[0,6.283185307179586]}},"theta2":{"field":"t2"},"radius":{"field":"r","type":"quantitative","scale":{"type":"linear","domain":[0,2],"range":[0,226],"zero":true}},"radius2":{"field":"r"}}},
{"data":{"name":"rays"},"mark":{"type":"rule","stroke":"#000","strokeWidth":2,"strokeDash":[7,5]},"encoding":{"x2":{"field":"u2"},"y2":{"field":"v2"}}},
{"data":{"name":"outer"},"mark":{"type":"arc","filled":false,"stroke":"#000","strokeWidth":2},"encoding":{"theta":{"field":"t1","type":"quantitative","stack":null,"scale":{"domain":[0,360],"range":[0,6.283185307179586]}},"theta2":{"field":"t2"},"radius":{"field":"r","type":"quantitative","scale":{"type":"linear","domain":[0,2],"range":[0,226],"zero":true}},"radius2":{"field":"r"}}},
{"data":{"name":"axb"},"mark":{"type":"rule","stroke":"#000","strokeWidth":3},"encoding":{"x2":{"field":"u2"},"y2":{"field":"v2"}}},
{"data":{"name":"axv"},"mark":{"type":"rule","stroke":"#000","strokeWidth":2.5,"strokeDash":[9,3]},"encoding":{"x2":{"field":"u2"},"y2":{"field":"v2"}}},
{"data":{"name":"obs"},"mark":{"type":"point","filled":true,"color":"#000","size":50,"opacity":1}},
{"data":{"name":"pts"},"transform":[{"filter":"datum.station==='Sinj' && indexof(['R2','R3','B2','B3'],datum.model)<0"}],"mark":{"type":"point","filled":true,"size":256,"opacity":1},"encoding":{"shape":{"field":"model","type":"nominal","legend":null,"scale":{"domain":["R1","R2","R3","B1","B2","B3","B4","B5","B6","B7","B8","B9"],"range":["M0.82,0A0.82,0.82,0,1,1,-0.82,0A0.82,0.82,0,1,1,0.82,0Z","M-0.62,0L0.62,0M0,-0.62L0,0.62","M-0.55,-0.55L0.55,0.55M-0.55,0.55L0.55,-0.55","M0.82,0A0.82,0.82,0,1,1,-0.82,0A0.82,0.82,0,1,1,0.82,0Z","M-0.62,0L0.62,0M0,-0.62L0,0.62","M-0.55,-0.55L0.55,0.55M-0.55,0.55L0.55,-0.55","M-1,0L-0.309,-0.225L-0.309,-0.951L0.118,-0.363L0.809,-0.588L0.382,0L0.809,0.588L0.118,0.363L-0.309,0.951L-0.309,0.225Z","M-0.94,0L-0.47,0.271L-0.47,0.814L0,0.543L0.47,0.814L0.47,0.271L0.94,0L0.47,-0.271L0.47,-0.814L0,-0.543L-0.47,-0.814L-0.47,-0.271Z","M-0.65,-0.65L0.65,-0.65L0.65,0.65L-0.65,0.65Z","M0,-0.9L0.85,0L0,0.9L-0.85,0Z","M-0.8,0L0.8,-1.15L0.8,1.15Z","M0.8,0L-0.8,-1.15L-0.8,1.15Z"]}},"color":{"field":"model","type":"nominal","legend":null,"scale":{"domain":["R1","R2","R3","B1","B2","B3","B4","B5","B6","B7","B8","B9"],"range":["#ff0000","#ff0000","#ff0000","#0000ff","#0000ff","#0000ff","#0000ff","#0000ff","#0000ff","#0000ff","#0000ff","#0000ff"]}}}},
{"data":{"name":"pts"},"transform":[{"filter":"datum.station==='Sinj' && indexof(['R2','R3','B2','B3'],datum.model)>=0"}],"mark":{"type":"point","filled":false,"size":256,"opacity":1,"strokeWidth":2.5},"encoding":{"shape":{"field":"model","type":"nominal","legend":null,"scale":{"domain":["R1","R2","R3","B1","B2","B3","B4","B5","B6","B7","B8","B9"],"range":["M0.82,0A0.82,0.82,0,1,1,-0.82,0A0.82,0.82,0,1,1,0.82,0Z","M-0.62,0L0.62,0M0,-0.62L0,0.62","M-0.55,-0.55L0.55,0.55M-0.55,0.55L0.55,-0.55","M0.82,0A0.82,0.82,0,1,1,-0.82,0A0.82,0.82,0,1,1,0.82,0Z","M-0.62,0L0.62,0M0,-0.62L0,0.62","M-0.55,-0.55L0.55,0.55M-0.55,0.55L0.55,-0.55","M-1,0L-0.309,-0.225L-0.309,-0.951L0.118,-0.363L0.809,-0.588L0.382,0L0.809,0.588L0.118,0.363L-0.309,0.951L-0.309,0.225Z","M-0.94,0L-0.47,0.271L-0.47,0.814L0,0.543L0.47,0.814L0.47,0.271L0.94,0L0.47,-0.271L0.47,-0.814L0,-0.543L-0.47,-0.814L-0.47,-0.271Z","M-0.65,-0.65L0.65,-0.65L0.65,0.65L-0.65,0.65Z","M0,-0.9L0.85,0L0,0.9L-0.85,0Z","M-0.8,0L0.8,-1.15L0.8,1.15Z","M0.8,0L-0.8,-1.15L-0.8,1.15Z"]}},"color":{"field":"model","type":"nominal","legend":null,"scale":{"domain":["R1","R2","R3","B1","B2","B3","B4","B5","B6","B7","B8","B9"],"range":["#ff0000","#ff0000","#ff0000","#0000ff","#0000ff","#0000ff","#0000ff","#0000ff","#0000ff","#0000ff","#0000ff","#0000ff"]}}}},
{"data":{"name":"cl"},"mark":{"type":"text","angle":270,"fontSize":12,"color":"#333","align":"center","baseline":"middle"},"encoding":{"text":{"field":"lab"}}},
{"data":{"name":"tl"},"mark":{"type":"text","angle":270,"fontSize":13,"color":"#333","align":"right","baseline":"middle"},"encoding":{"text":{"field":"lab"}}},
{"data":{"name":"ttl"},"mark":{"type":"text","angle":180,"fontSize":18.5,"fontWeight":"bold","align":"center","baseline":"middle"},"encoding":{"text":{"field":"lab"}}},
{"data":{"name":"koef"},"mark":{"type":"text","angle":320,"fontSize":21,"fontWeight":"bold","align":"center","baseline":"middle"},"encoding":{"text":{"field":"lab"}}},
{"data":{"name":"obslab"},"mark":{"type":"text","angle":270,"fontSize":17,"fontWeight":"bold","align":"center","baseline":"middle"},"encoding":{"text":{"field":"lab"}}},
{"data":{"name":"names"},"transform":[{"filter":"datum.station==='Sinj'"}],"mark":{"type":"text","angle":180,"fontSize":22,"fontWeight":"bold","align":"center","baseline":"middle"},"encoding":{"text":{"field":"station"}}},
{"data":{"name":"rmsdlab"},"transform":[{"filter":"datum.station==='Sinj'"}],"mark":{"type":"text","angle":270,"fontSize":16,"fontWeight":"bold","align":"center","baseline":"middle"},"encoding":{"text":{"field":"lab"}}}
]}
]},
{"spacing": 0, "hconcat": [
{"width":300,"height":359,"encoding":{"x":{"field":"u","type":"quantitative","axis":null,"scale":{"domain":[-0.46018,2.19469],"reverse":true,"nice":false,"zero":false}},"y":{"field":"v","type":"quantitative","axis":null,"scale":{"domain":[-0.81416,2.36283],"nice":false,"zero":false}}},
"layer":[
{"data":{"name":"sd"},"mark":{"type":"arc","filled":false,"stroke":"#000","strokeWidth":1.4,"strokeDash":[6,3,1.5,3]},"encoding":{"theta":{"field":"t1","type":"quantitative","stack":null,"scale":{"domain":[0,360],"range":[0,6.283185307179586]}},"theta2":{"field":"t2"},"radius":{"field":"r","type":"quantitative","scale":{"type":"linear","domain":[0,2],"range":[0,226],"zero":true}}}},
{"data":{"name":"rms"},"mark":{"type":"arc","filled":false,"stroke":"#000","strokeWidth":1.5,"strokeDash":[1,4],"strokeCap":"round"},"encoding":{"theta":{"field":"t1","type":"quantitative","stack":null,"scale":{"domain":[0,360],"range":[0,6.283185307179586]}},"theta2":{"field":"t2"},"radius":{"field":"r","type":"quantitative","scale":{"type":"linear","domain":[0,2],"range":[0,226],"zero":true}},"radius2":{"field":"r"}}},
{"data":{"name":"rays"},"mark":{"type":"rule","stroke":"#000","strokeWidth":2,"strokeDash":[7,5]},"encoding":{"x2":{"field":"u2"},"y2":{"field":"v2"}}},
{"data":{"name":"outer"},"mark":{"type":"arc","filled":false,"stroke":"#000","strokeWidth":2},"encoding":{"theta":{"field":"t1","type":"quantitative","stack":null,"scale":{"domain":[0,360],"range":[0,6.283185307179586]}},"theta2":{"field":"t2"},"radius":{"field":"r","type":"quantitative","scale":{"type":"linear","domain":[0,2],"range":[0,226],"zero":true}},"radius2":{"field":"r"}}},
{"data":{"name":"axb"},"mark":{"type":"rule","stroke":"#000","strokeWidth":3},"encoding":{"x2":{"field":"u2"},"y2":{"field":"v2"}}},
{"data":{"name":"axv"},"mark":{"type":"rule","stroke":"#000","strokeWidth":2.5,"strokeDash":[9,3]},"encoding":{"x2":{"field":"u2"},"y2":{"field":"v2"}}},
{"data":{"name":"obs"},"mark":{"type":"point","filled":true,"color":"#000","size":50,"opacity":1}},
{"data":{"name":"pts"},"transform":[{"filter":"datum.station==='Dubrovnik' && indexof(['R2','R3','B2','B3'],datum.model)<0"}],"mark":{"type":"point","filled":true,"size":256,"opacity":1},"encoding":{"shape":{"field":"model","type":"nominal","legend":null,"scale":{"domain":["R1","R2","R3","B1","B2","B3","B4","B5","B6","B7","B8","B9"],"range":["M0.82,0A0.82,0.82,0,1,1,-0.82,0A0.82,0.82,0,1,1,0.82,0Z","M-0.62,0L0.62,0M0,-0.62L0,0.62","M-0.55,-0.55L0.55,0.55M-0.55,0.55L0.55,-0.55","M0.82,0A0.82,0.82,0,1,1,-0.82,0A0.82,0.82,0,1,1,0.82,0Z","M-0.62,0L0.62,0M0,-0.62L0,0.62","M-0.55,-0.55L0.55,0.55M-0.55,0.55L0.55,-0.55","M-1,0L-0.309,-0.225L-0.309,-0.951L0.118,-0.363L0.809,-0.588L0.382,0L0.809,0.588L0.118,0.363L-0.309,0.951L-0.309,0.225Z","M-0.94,0L-0.47,0.271L-0.47,0.814L0,0.543L0.47,0.814L0.47,0.271L0.94,0L0.47,-0.271L0.47,-0.814L0,-0.543L-0.47,-0.814L-0.47,-0.271Z","M-0.65,-0.65L0.65,-0.65L0.65,0.65L-0.65,0.65Z","M0,-0.9L0.85,0L0,0.9L-0.85,0Z","M-0.8,0L0.8,-1.15L0.8,1.15Z","M0.8,0L-0.8,-1.15L-0.8,1.15Z"]}},"color":{"field":"model","type":"nominal","legend":null,"scale":{"domain":["R1","R2","R3","B1","B2","B3","B4","B5","B6","B7","B8","B9"],"range":["#ff0000","#ff0000","#ff0000","#0000ff","#0000ff","#0000ff","#0000ff","#0000ff","#0000ff","#0000ff","#0000ff","#0000ff"]}}}},
{"data":{"name":"pts"},"transform":[{"filter":"datum.station==='Dubrovnik' && indexof(['R2','R3','B2','B3'],datum.model)>=0"}],"mark":{"type":"point","filled":false,"size":256,"opacity":1,"strokeWidth":2.5},"encoding":{"shape":{"field":"model","type":"nominal","legend":null,"scale":{"domain":["R1","R2","R3","B1","B2","B3","B4","B5","B6","B7","B8","B9"],"range":["M0.82,0A0.82,0.82,0,1,1,-0.82,0A0.82,0.82,0,1,1,0.82,0Z","M-0.62,0L0.62,0M0,-0.62L0,0.62","M-0.55,-0.55L0.55,0.55M-0.55,0.55L0.55,-0.55","M0.82,0A0.82,0.82,0,1,1,-0.82,0A0.82,0.82,0,1,1,0.82,0Z","M-0.62,0L0.62,0M0,-0.62L0,0.62","M-0.55,-0.55L0.55,0.55M-0.55,0.55L0.55,-0.55","M-1,0L-0.309,-0.225L-0.309,-0.951L0.118,-0.363L0.809,-0.588L0.382,0L0.809,0.588L0.118,0.363L-0.309,0.951L-0.309,0.225Z","M-0.94,0L-0.47,0.271L-0.47,0.814L0,0.543L0.47,0.814L0.47,0.271L0.94,0L0.47,-0.271L0.47,-0.814L0,-0.543L-0.47,-0.814L-0.47,-0.271Z","M-0.65,-0.65L0.65,-0.65L0.65,0.65L-0.65,0.65Z","M0,-0.9L0.85,0L0,0.9L-0.85,0Z","M-0.8,0L0.8,-1.15L0.8,1.15Z","M0.8,0L-0.8,-1.15L-0.8,1.15Z"]}},"color":{"field":"model","type":"nominal","legend":null,"scale":{"domain":["R1","R2","R3","B1","B2","B3","B4","B5","B6","B7","B8","B9"],"range":["#ff0000","#ff0000","#ff0000","#0000ff","#0000ff","#0000ff","#0000ff","#0000ff","#0000ff","#0000ff","#0000ff","#0000ff"]}}}},
{"data":{"name":"cl"},"mark":{"type":"text","angle":270,"fontSize":12,"color":"#333","align":"center","baseline":"middle"},"encoding":{"text":{"field":"lab"}}},
{"data":{"name":"tl"},"mark":{"type":"text","angle":270,"fontSize":13,"color":"#333","align":"right","baseline":"middle"},"encoding":{"text":{"field":"lab"}}},
{"data":{"name":"ttl"},"mark":{"type":"text","angle":180,"fontSize":18.5,"fontWeight":"bold","align":"center","baseline":"middle"},"encoding":{"text":{"field":"lab"}}},
{"data":{"name":"koef"},"mark":{"type":"text","angle":320,"fontSize":21,"fontWeight":"bold","align":"center","baseline":"middle"},"encoding":{"text":{"field":"lab"}}},
{"data":{"name":"obslab"},"mark":{"type":"text","angle":270,"fontSize":17,"fontWeight":"bold","align":"center","baseline":"middle"},"encoding":{"text":{"field":"lab"}}},
{"data":{"name":"names"},"transform":[{"filter":"datum.station==='Dubrovnik'"}],"mark":{"type":"text","angle":180,"fontSize":22,"fontWeight":"bold","align":"center","baseline":"middle"},"encoding":{"text":{"field":"station"}}},
{"data":{"name":"rmsdlab"},"transform":[{"filter":"datum.station==='Dubrovnik'"}],"mark":{"type":"text","angle":270,"fontSize":16,"fontWeight":"bold","align":"center","baseline":"middle"},"encoding":{"text":{"field":"lab"}}},
{"data":{"name":"dubl"},"mark":{"type":"text","angle":290,"fontSize":15,"fontWeight":"bold","fontStyle":"italic","align":"center","baseline":"middle"},"encoding":{"text":{"field":"lab"}}}
]},
{"width":300,"height":359,"encoding":{"x":{"field":"u","type":"quantitative","axis":null,"scale":{"domain":[-0.45133,2.20354],"reverse":true,"nice":false,"zero":false}},"y":{"field":"v","type":"quantitative","axis":null,"scale":{"domain":[-0.81416,2.36283],"nice":false,"zero":false}}},
"layer":[
{"data":{"name":"sd"},"mark":{"type":"arc","filled":false,"stroke":"#000","strokeWidth":1.4,"strokeDash":[6,3,1.5,3]},"encoding":{"theta":{"field":"t1","type":"quantitative","stack":null,"scale":{"domain":[0,360],"range":[0,6.283185307179586]}},"theta2":{"field":"t2"},"radius":{"field":"r","type":"quantitative","scale":{"type":"linear","domain":[0,2],"range":[0,226],"zero":true}}}},
{"data":{"name":"rms"},"mark":{"type":"arc","filled":false,"stroke":"#000","strokeWidth":1.5,"strokeDash":[1,4],"strokeCap":"round"},"encoding":{"theta":{"field":"t1","type":"quantitative","stack":null,"scale":{"domain":[0,360],"range":[0,6.283185307179586]}},"theta2":{"field":"t2"},"radius":{"field":"r","type":"quantitative","scale":{"type":"linear","domain":[0,2],"range":[0,226],"zero":true}},"radius2":{"field":"r"}}},
{"data":{"name":"rays"},"mark":{"type":"rule","stroke":"#000","strokeWidth":2,"strokeDash":[7,5]},"encoding":{"x2":{"field":"u2"},"y2":{"field":"v2"}}},
{"data":{"name":"outer"},"mark":{"type":"arc","filled":false,"stroke":"#000","strokeWidth":2},"encoding":{"theta":{"field":"t1","type":"quantitative","stack":null,"scale":{"domain":[0,360],"range":[0,6.283185307179586]}},"theta2":{"field":"t2"},"radius":{"field":"r","type":"quantitative","scale":{"type":"linear","domain":[0,2],"range":[0,226],"zero":true}},"radius2":{"field":"r"}}},
{"data":{"name":"axb"},"mark":{"type":"rule","stroke":"#000","strokeWidth":3},"encoding":{"x2":{"field":"u2"},"y2":{"field":"v2"}}},
{"data":{"name":"axv"},"mark":{"type":"rule","stroke":"#000","strokeWidth":2.5,"strokeDash":[9,3]},"encoding":{"x2":{"field":"u2"},"y2":{"field":"v2"}}},
{"data":{"name":"obs"},"mark":{"type":"point","filled":true,"color":"#000","size":50,"opacity":1}},
{"data":{"name":"pts"},"transform":[{"filter":"datum.station==='Lastovo' && indexof(['R2','R3','B2','B3'],datum.model)<0"}],"mark":{"type":"point","filled":true,"size":256,"opacity":1},"encoding":{"shape":{"field":"model","type":"nominal","legend":null,"scale":{"domain":["R1","R2","R3","B1","B2","B3","B4","B5","B6","B7","B8","B9"],"range":["M0.82,0A0.82,0.82,0,1,1,-0.82,0A0.82,0.82,0,1,1,0.82,0Z","M-0.62,0L0.62,0M0,-0.62L0,0.62","M-0.55,-0.55L0.55,0.55M-0.55,0.55L0.55,-0.55","M0.82,0A0.82,0.82,0,1,1,-0.82,0A0.82,0.82,0,1,1,0.82,0Z","M-0.62,0L0.62,0M0,-0.62L0,0.62","M-0.55,-0.55L0.55,0.55M-0.55,0.55L0.55,-0.55","M-1,0L-0.309,-0.225L-0.309,-0.951L0.118,-0.363L0.809,-0.588L0.382,0L0.809,0.588L0.118,0.363L-0.309,0.951L-0.309,0.225Z","M-0.94,0L-0.47,0.271L-0.47,0.814L0,0.543L0.47,0.814L0.47,0.271L0.94,0L0.47,-0.271L0.47,-0.814L0,-0.543L-0.47,-0.814L-0.47,-0.271Z","M-0.65,-0.65L0.65,-0.65L0.65,0.65L-0.65,0.65Z","M0,-0.9L0.85,0L0,0.9L-0.85,0Z","M-0.8,0L0.8,-1.15L0.8,1.15Z","M0.8,0L-0.8,-1.15L-0.8,1.15Z"]}},"color":{"field":"model","type":"nominal","legend":null,"scale":{"domain":["R1","R2","R3","B1","B2","B3","B4","B5","B6","B7","B8","B9"],"range":["#ff0000","#ff0000","#ff0000","#0000ff","#0000ff","#0000ff","#0000ff","#0000ff","#0000ff","#0000ff","#0000ff","#0000ff"]}}}},
{"data":{"name":"pts"},"transform":[{"filter":"datum.station==='Lastovo' && indexof(['R2','R3','B2','B3'],datum.model)>=0"}],"mark":{"type":"point","filled":false,"size":256,"opacity":1,"strokeWidth":2.5},"encoding":{"shape":{"field":"model","type":"nominal","legend":null,"scale":{"domain":["R1","R2","R3","B1","B2","B3","B4","B5","B6","B7","B8","B9"],"range":["M0.82,0A0.82,0.82,0,1,1,-0.82,0A0.82,0.82,0,1,1,0.82,0Z","M-0.62,0L0.62,0M0,-0.62L0,0.62","M-0.55,-0.55L0.55,0.55M-0.55,0.55L0.55,-0.55","M0.82,0A0.82,0.82,0,1,1,-0.82,0A0.82,0.82,0,1,1,0.82,0Z","M-0.62,0L0.62,0M0,-0.62L0,0.62","M-0.55,-0.55L0.55,0.55M-0.55,0.55L0.55,-0.55","M-1,0L-0.309,-0.225L-0.309,-0.951L0.118,-0.363L0.809,-0.588L0.382,0L0.809,0.588L0.118,0.363L-0.309,0.951L-0.309,0.225Z","M-0.94,0L-0.47,0.271L-0.47,0.814L0,0.543L0.47,0.814L0.47,0.271L0.94,0L0.47,-0.271L0.47,-0.814L0,-0.543L-0.47,-0.814L-0.47,-0.271Z","M-0.65,-0.65L0.65,-0.65L0.65,0.65L-0.65,0.65Z","M0,-0.9L0.85,0L0,0.9L-0.85,0Z","M-0.8,0L0.8,-1.15L0.8,1.15Z","M0.8,0L-0.8,-1.15L-0.8,1.15Z"]}},"color":{"field":"model","type":"nominal","legend":null,"scale":{"domain":["R1","R2","R3","B1","B2","B3","B4","B5","B6","B7","B8","B9"],"range":["#ff0000","#ff0000","#ff0000","#0000ff","#0000ff","#0000ff","#0000ff","#0000ff","#0000ff","#0000ff","#0000ff","#0000ff"]}}}},
{"data":{"name":"cl"},"mark":{"type":"text","angle":270,"fontSize":12,"color":"#333","align":"center","baseline":"middle"},"encoding":{"text":{"field":"lab"}}},
{"data":{"name":"tl"},"mark":{"type":"text","angle":270,"fontSize":13,"color":"#333","align":"right","baseline":"middle"},"encoding":{"text":{"field":"lab"}}},
{"data":{"name":"ttl"},"mark":{"type":"text","angle":180,"fontSize":18.5,"fontWeight":"bold","align":"center","baseline":"middle"},"encoding":{"text":{"field":"lab"}}},
{"data":{"name":"koef"},"mark":{"type":"text","angle":320,"fontSize":21,"fontWeight":"bold","align":"center","baseline":"middle"},"encoding":{"text":{"field":"lab"}}},
{"data":{"name":"obslab"},"mark":{"type":"text","angle":270,"fontSize":17,"fontWeight":"bold","align":"center","baseline":"middle"},"encoding":{"text":{"field":"lab"}}},
{"data":{"name":"names"},"transform":[{"filter":"datum.station==='Lastovo'"}],"mark":{"type":"text","angle":180,"fontSize":22,"fontWeight":"bold","align":"center","baseline":"middle"},"encoding":{"text":{"field":"station"}}},
{"data":{"name":"rmsdlab"},"transform":[{"filter":"datum.station==='Lastovo'"}],"mark":{"type":"text","angle":270,"fontSize":16,"fontWeight":"bold","align":"center","baseline":"middle"},"encoding":{"text":{"field":"lab"}}}
]},
{"width":267,"height":359,"encoding":{"x":{"field":"u","type":"quantitative","axis":null,"scale":{"domain":[-0.18584,2.17699],"reverse":true,"nice":false,"zero":false}},"y":{"field":"v","type":"quantitative","axis":null,"scale":{"domain":[-0.81416,2.36283],"nice":false,"zero":false}}},
"layer":[
{"data":{"name":"sd"},"mark":{"type":"arc","filled":false,"stroke":"#000","strokeWidth":1.4,"strokeDash":[6,3,1.5,3]},"encoding":{"theta":{"field":"t1","type":"quantitative","stack":null,"scale":{"domain":[0,360],"range":[0,6.283185307179586]}},"theta2":{"field":"t2"},"radius":{"field":"r","type":"quantitative","scale":{"type":"linear","domain":[0,2],"range":[0,226],"zero":true}}}},
{"data":{"name":"rms"},"mark":{"type":"arc","filled":false,"stroke":"#000","strokeWidth":1.5,"strokeDash":[1,4],"strokeCap":"round"},"encoding":{"theta":{"field":"t1","type":"quantitative","stack":null,"scale":{"domain":[0,360],"range":[0,6.283185307179586]}},"theta2":{"field":"t2"},"radius":{"field":"r","type":"quantitative","scale":{"type":"linear","domain":[0,2],"range":[0,226],"zero":true}},"radius2":{"field":"r"}}},
{"data":{"name":"rays"},"mark":{"type":"rule","stroke":"#000","strokeWidth":2,"strokeDash":[7,5]},"encoding":{"x2":{"field":"u2"},"y2":{"field":"v2"}}},
{"data":{"name":"outer"},"mark":{"type":"arc","filled":false,"stroke":"#000","strokeWidth":2},"encoding":{"theta":{"field":"t1","type":"quantitative","stack":null,"scale":{"domain":[0,360],"range":[0,6.283185307179586]}},"theta2":{"field":"t2"},"radius":{"field":"r","type":"quantitative","scale":{"type":"linear","domain":[0,2],"range":[0,226],"zero":true}},"radius2":{"field":"r"}}},
{"data":{"name":"axb"},"mark":{"type":"rule","stroke":"#000","strokeWidth":3},"encoding":{"x2":{"field":"u2"},"y2":{"field":"v2"}}},
{"data":{"name":"axv"},"mark":{"type":"rule","stroke":"#000","strokeWidth":2.5,"strokeDash":[9,3]},"encoding":{"x2":{"field":"u2"},"y2":{"field":"v2"}}},
{"data":{"name":"obs"},"mark":{"type":"point","filled":true,"color":"#000","size":50,"opacity":1}},
{"data":{"name":"pts"},"transform":[{"filter":"datum.station==='Rijeka' && indexof(['R2','R3','B2','B3'],datum.model)<0"}],"mark":{"type":"point","filled":true,"size":256,"opacity":1},"encoding":{"shape":{"field":"model","type":"nominal","legend":null,"scale":{"domain":["R1","R2","R3","B1","B2","B3","B4","B5","B6","B7","B8","B9"],"range":["M0.82,0A0.82,0.82,0,1,1,-0.82,0A0.82,0.82,0,1,1,0.82,0Z","M-0.62,0L0.62,0M0,-0.62L0,0.62","M-0.55,-0.55L0.55,0.55M-0.55,0.55L0.55,-0.55","M0.82,0A0.82,0.82,0,1,1,-0.82,0A0.82,0.82,0,1,1,0.82,0Z","M-0.62,0L0.62,0M0,-0.62L0,0.62","M-0.55,-0.55L0.55,0.55M-0.55,0.55L0.55,-0.55","M-1,0L-0.309,-0.225L-0.309,-0.951L0.118,-0.363L0.809,-0.588L0.382,0L0.809,0.588L0.118,0.363L-0.309,0.951L-0.309,0.225Z","M-0.94,0L-0.47,0.271L-0.47,0.814L0,0.543L0.47,0.814L0.47,0.271L0.94,0L0.47,-0.271L0.47,-0.814L0,-0.543L-0.47,-0.814L-0.47,-0.271Z","M-0.65,-0.65L0.65,-0.65L0.65,0.65L-0.65,0.65Z","M0,-0.9L0.85,0L0,0.9L-0.85,0Z","M-0.8,0L0.8,-1.15L0.8,1.15Z","M0.8,0L-0.8,-1.15L-0.8,1.15Z"]}},"color":{"field":"model","type":"nominal","legend":null,"scale":{"domain":["R1","R2","R3","B1","B2","B3","B4","B5","B6","B7","B8","B9"],"range":["#ff0000","#ff0000","#ff0000","#0000ff","#0000ff","#0000ff","#0000ff","#0000ff","#0000ff","#0000ff","#0000ff","#0000ff"]}}}},
{"data":{"name":"pts"},"transform":[{"filter":"datum.station==='Rijeka' && indexof(['R2','R3','B2','B3'],datum.model)>=0"}],"mark":{"type":"point","filled":false,"size":256,"opacity":1,"strokeWidth":2.5},"encoding":{"shape":{"field":"model","type":"nominal","legend":null,"scale":{"domain":["R1","R2","R3","B1","B2","B3","B4","B5","B6","B7","B8","B9"],"range":["M0.82,0A0.82,0.82,0,1,1,-0.82,0A0.82,0.82,0,1,1,0.82,0Z","M-0.62,0L0.62,0M0,-0.62L0,0.62","M-0.55,-0.55L0.55,0.55M-0.55,0.55L0.55,-0.55","M0.82,0A0.82,0.82,0,1,1,-0.82,0A0.82,0.82,0,1,1,0.82,0Z","M-0.62,0L0.62,0M0,-0.62L0,0.62","M-0.55,-0.55L0.55,0.55M-0.55,0.55L0.55,-0.55","M-1,0L-0.309,-0.225L-0.309,-0.951L0.118,-0.363L0.809,-0.588L0.382,0L0.809,0.588L0.118,0.363L-0.309,0.951L-0.309,0.225Z","M-0.94,0L-0.47,0.271L-0.47,0.814L0,0.543L0.47,0.814L0.47,0.271L0.94,0L0.47,-0.271L0.47,-0.814L0,-0.543L-0.47,-0.814L-0.47,-0.271Z","M-0.65,-0.65L0.65,-0.65L0.65,0.65L-0.65,0.65Z","M0,-0.9L0.85,0L0,0.9L-0.85,0Z","M-0.8,0L0.8,-1.15L0.8,1.15Z","M0.8,0L-0.8,-1.15L-0.8,1.15Z"]}},"color":{"field":"model","type":"nominal","legend":null,"scale":{"domain":["R1","R2","R3","B1","B2","B3","B4","B5","B6","B7","B8","B9"],"range":["#ff0000","#ff0000","#ff0000","#0000ff","#0000ff","#0000ff","#0000ff","#0000ff","#0000ff","#0000ff","#0000ff","#0000ff"]}}}},
{"data":{"name":"cl"},"mark":{"type":"text","angle":270,"fontSize":12,"color":"#333","align":"center","baseline":"middle"},"encoding":{"text":{"field":"lab"}}},
{"data":{"name":"tl"},"mark":{"type":"text","angle":270,"fontSize":13,"color":"#333","align":"right","baseline":"middle"},"encoding":{"text":{"field":"lab"}}},
{"data":{"name":"ttl"},"mark":{"type":"text","angle":180,"fontSize":18.5,"fontWeight":"bold","align":"center","baseline":"middle"},"encoding":{"text":{"field":"lab"}}},
{"data":{"name":"koef"},"mark":{"type":"text","angle":320,"fontSize":21,"fontWeight":"bold","align":"center","baseline":"middle"},"encoding":{"text":{"field":"lab"}}},
{"data":{"name":"obslab"},"mark":{"type":"text","angle":270,"fontSize":17,"fontWeight":"bold","align":"center","baseline":"middle"},"encoding":{"text":{"field":"lab"}}},
{"data":{"name":"names"},"transform":[{"filter":"datum.station==='Rijeka'"}],"mark":{"type":"text","angle":180,"fontSize":22,"fontWeight":"bold","align":"center","baseline":"middle"},"encoding":{"text":{"field":"station"}}},
{"data":{"name":"rmsdlab"},"transform":[{"filter":"datum.station==='Rijeka'"}],"mark":{"type":"text","angle":270,"fontSize":16,"fontWeight":"bold","align":"center","baseline":"middle"},"encoding":{"text":{"field":"lab"}}}
]}
]}
]
}
